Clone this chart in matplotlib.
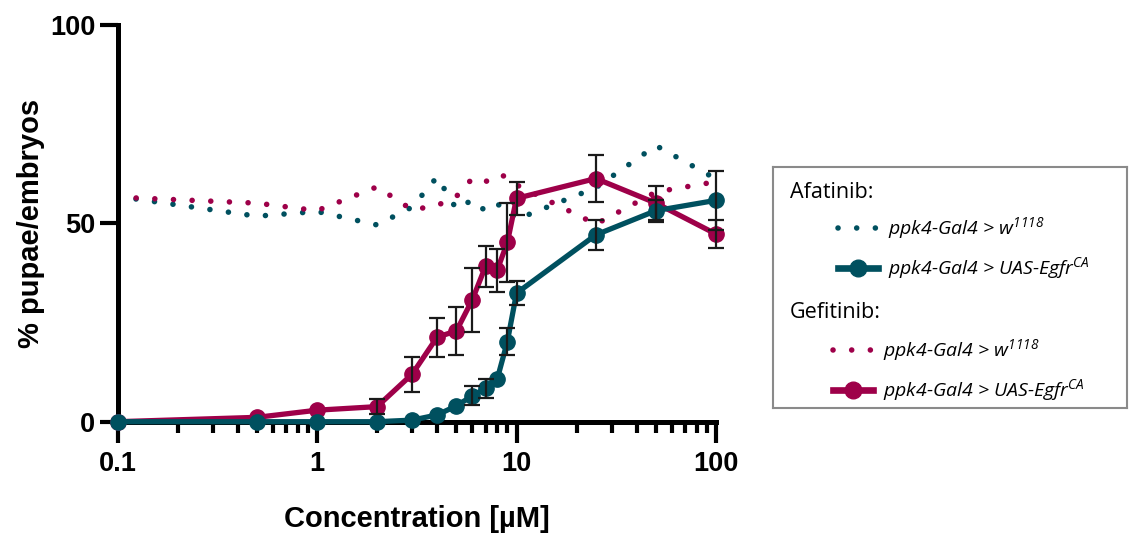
import matplotlib
matplotlib.use("Agg")
import matplotlib.pyplot as plt
from matplotlib.ticker import FixedLocator, NullFormatter
import numpy as np

plt.rcParams['font.family'] = ['Liberation Sans', 'DejaVu Sans']
plt.rcParams['mathtext.fontset'] = 'custom'
plt.rcParams['mathtext.rm'] = 'Open Sans:italic'
plt.rcParams['mathtext.it'] = 'Open Sans:italic'

# data
conc = [0.1, 0.5, 1, 2, 3, 4, 5, 6, 7, 8, 9, 10, 25, 50, 100]

afa_ctrl = [56.8, 51.8, 53.0, 49.6, 54.1, 61.7, 53.6, 55.9, 53.1, 54.8, 53.8, 51.0, 59.0, 69.6, 61.2]
gef_ctrl = [56.6, 55.1, 53.2, 59.2, 53.4, 54.5, 56.8, 61.3, 60.5, 62.2, 61.8, 59.7, 49.8, 57.9, 60.5]

afa_egfr = [0.0, 0.0, 0.0, 0.0, 0.4, 1.7, 4.0, 6.5, 8.4, 10.7, 20.2, 32.4, 47.1, 53.2, 55.8]
afa_err = [0, 0, 0, 0, 0, 0, 0, 2.4, 2.3, 0, 3.5, 3.0, 3.8, 2.8, 7.4]
gef_egfr = [0.0, 1.1, 2.9, 3.8, 12.0, 21.3, 22.9, 30.7, 39.2, 38.2, 45.2, 56.3, 61.3, 55.1, 47.3]
gef_err = [0, 0, 0, 1.9, 4.4, 4.9, 6.1, 8.0, 5.2, 5.4, 9.9, 4.1, 5.9, 4.2, 3.5]

teal = '#00505f'
magenta = '#9e0049'
W, H = 1138, 536

fig = plt.figure(figsize=(W / 100, H / 100), dpi=100)
ax = fig.add_axes([117.5 / W, 114.3 / H, 598.5 / W, 396.7 / H])

dots = (0, (0.01, 3.35))
ax.plot(conc, afa_ctrl, color=teal, lw=4.0, linestyle=dots, dash_capstyle='round', zorder=2)
ax.plot(conc, gef_ctrl, color=magenta, lw=4.0, linestyle=dots, dash_capstyle='round', zorder=2)

ax.plot(conc, gef_egfr, color=magenta, lw=3.8, marker='o', ms=11, clip_on=False, zorder=4)
ax.plot(conc, afa_egfr, color=teal, lw=3.8, marker='o', ms=11, clip_on=False, zorder=5)

for y, e in [(gef_egfr, gef_err), (afa_egfr, afa_err)]:
    c = np.array(conc)
    y = np.array(y)
    e = np.array(e)
    m = e > 0
    ax.errorbar(c[m], y[m], yerr=e[m], fmt='none', ecolor='#1a1a1a', elinewidth=1.6,
                capsize=5.5, capthick=1.6, zorder=6, clip_on=False)

ax.set_xscale('log')
ax.set_xlim(0.1, 100)
ax.set_ylim(0, 100)
for s in ['top', 'right']:
    ax.spines[s].set_visible(False)
for s in ['left', 'bottom']:
    ax.spines[s].set_linewidth(3.6)
    ax.spines[s].set_zorder(3)

ax.xaxis.set_major_locator(FixedLocator([0.1, 1, 10, 100]))
ax.set_xticklabels(['0.1', '1', '10', '100'])
minors = [k * d for d in [0.1, 1, 10] for k in range(2, 10)]
ax.xaxis.set_minor_locator(FixedLocator(minors))
ax.xaxis.set_minor_formatter(NullFormatter())
ax.set_yticks([0, 50, 100])
ax.tick_params(axis='x', which='major', length=15, width=3, pad=6, labelsize=19.5)
ax.tick_params(axis='x', which='minor', length=8, width=3)
ax.tick_params(axis='y', length=13, width=3, pad=3, labelsize=19.5)
for t in ax.get_xticklabels() + ax.get_yticklabels():
    t.set_fontweight('bold')

ax.set_xlabel('Concentration [µM]', fontsize=21, fontweight='bold', labelpad=20)
ax.set_ylabel('% pupae/embryos', fontsize=21, fontweight='bold')
ax.yaxis.set_label_coords(-0.121, 0.5)

# legend box drawn by hand (pixel layout)
lax = fig.add_axes([773 / W, 1 - 408 / H, 354 / W, 241 / H])
lax.set_xlim(773, 1127)
lax.set_ylim(408, 167)
lax.set_xticks([])
lax.set_yticks([])
for s in lax.spines.values():
    s.set_color('#8a8a8a')
    s.set_linewidth(1.5)

lfont = dict(family=['Open Sans', 'DejaVu Sans'], fontsize=14, va='center')
lax.text(790, 192, 'Afatinib:', **dict(lfont, fontsize=15.5))
lax.text(790, 313, 'Gefitinib:', **dict(lfont, fontsize=15.5))
rows = [
    (228, 838, teal, dots, None, 'ppk4-Gal4 > w$^{1118}$'),
    (268, 838, teal, '-', 'o', 'ppk4-Gal4 > UAS-Egfr$^{CA}$'),
    (350, 833, magenta, dots, None, 'ppk4-Gal4 > w$^{1118}$'),
    (390, 833, magenta, '-', 'o', 'ppk4-Gal4 > UAS-Egfr$^{CA}$'),
]
for yy, x0, col, ls, mk, lab in rows:
    lax.plot([x0, x0 + 40], [yy, yy], color=col, lw=4.0 if mk is None else 4.8,
             linestyle=ls, dash_capstyle='round', clip_on=False)
    if mk:
        lax.plot([x0 + 20], [yy], color=col, marker=mk, ms=12)
    lax.text(x0 + 50, yy, lab, style='italic', **lfont)

fig.savefig('out.png', dpi=100)
